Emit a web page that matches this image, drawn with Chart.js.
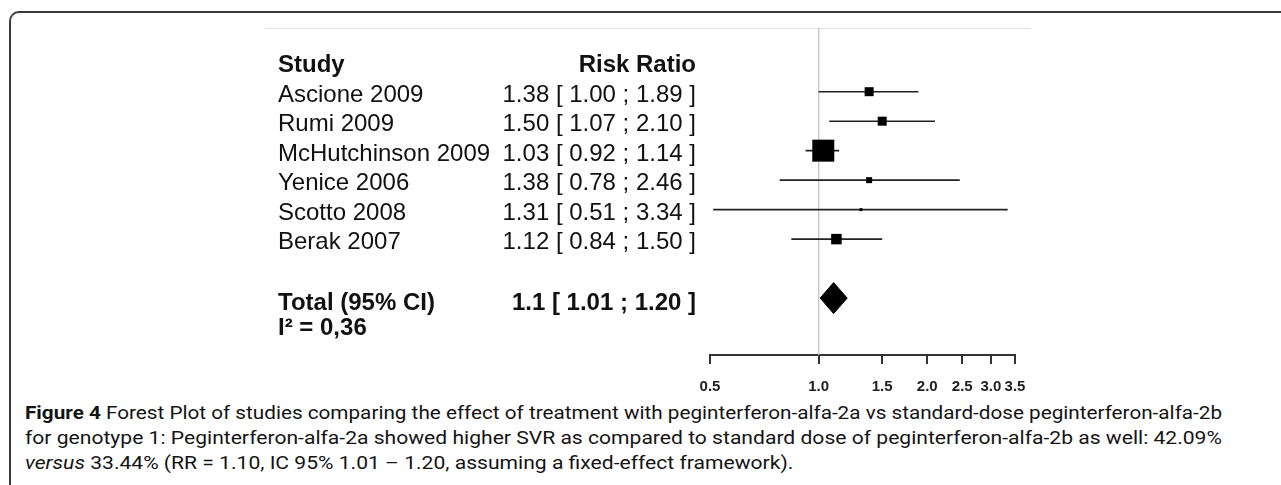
<!DOCTYPE html>
<html>
<head>
<meta charset="utf-8">
<title>Forest plot</title>
<script src="https://cdn.jsdelivr.net/npm/chart.js@4.4.1/dist/chart.umd.min.js"></script>
<style>
  html, body { margin: 0; padding: 0; background: #fff; }
  body { width: 1281px; height: 485px; position: relative; overflow: hidden; }
  #frame {
    position: absolute; left: 9px; top: 11px; width: 1300px; height: 500px;
    border-top: 2px solid #3a3a3a; border-left: 2px solid #3a3a3a;
    border-top-left-radius: 10px; box-sizing: border-box;
  }
  #plot { position: absolute; left: 0; top: 0; }
  .cap {
    position: absolute; left: 25px; white-space: nowrap; line-height: 24px;
    font-family: Roboto, 'Open Sans', sans-serif; font-size: 17.5px; color: #151314;
    transform-origin: 0 50%;
  }
</style>
</head>
<body>
<div id="frame"></div>
<canvas id="plot" width="1281" height="400"></canvas>
<div class="cap" id="cap1" style="top:401px"><b>Figure 4</b> Forest Plot of studies comparing the effect of treatment with peginterferon-alfa-2a vs standard-dose peginterferon-alfa-2b</div>
<div class="cap" id="cap2" style="top:426px">for genotype 1: Peginterferon-alfa-2a showed higher SVR as compared to standard dose of peginterferon-alfa-2b as well: 42.09%</div>
<div class="cap" id="cap3" style="top:451px"><i>versus</i> 33.44% (RR = 1.10, IC 95% 1.01 – 1.20, assuming a fixed-effect framework).</div>
<script>
const studies = ['Ascione 2009', 'Rumi 2009', 'McHutchinson 2009', 'Yenice 2006', 'Scotto 2008', 'Berak 2007'];
const riskRatio = [1.38, 1.50, 1.03, 1.38, 1.31, 1.12];
const ciLower = [1.00, 1.07, 0.92, 0.78, 0.51, 0.84];
const ciUpper = [1.89, 2.10, 1.14, 2.46, 3.34, 1.50];
const weights = [10.1, 10.1, 60.4, 4.5, 1.1, 13.8];

const totalLabel = 'Total (95% CI)';
const totalRR = 1.1;
const totalLower = 1.01;
const totalUpper = 1.20;
const heterogeneity = 'I² = 0,36';

const headers = ['Study', 'Risk Ratio'];
const xTicks = [0.5, 1.0, 1.5, 2.0, 2.5, 3.0, 3.5];

const FONT = '"Liberation Sans", Arial, sans-serif';
const ROW_TOP = -2.16;
const ROW_BOTTOM = 8.93;
const TOTAL_ROW = studies.length + 1;

function squareRadius(w) {
  // area of the square follows the study weight
  const side = 2.83 * Math.sqrt(w);
  return side / Math.SQRT2;
}

function fmt(v) {
  return v.toFixed(2);
}

const ciSegments = [];
studies.forEach((s, i) => {
  ciSegments.push({ x: ciLower[i], y: i });
  ciSegments.push({ x: ciUpper[i], y: i });
  ciSegments.push({ x: ciUpper[i], y: null });
});

const diamondHalf = 0.525;
const diamond = [
  { x: totalLower, y: TOTAL_ROW },
  { x: totalRR, y: TOTAL_ROW - diamondHalf },
  { x: totalUpper, y: TOTAL_ROW },
  { x: totalRR, y: TOTAL_ROW + diamondHalf },
  { x: totalLower, y: TOTAL_ROW },
];

const tablePlugin = {
  id: 'forestTable',
  beforeDraw(chart) {
    const ctx = chart.ctx;
    ctx.save();
    ctx.strokeStyle = '#e2e2e2';
    ctx.lineWidth = 1;
    ctx.beginPath();
    ctx.moveTo(265, chart.chartArea.top + 0.5);
    ctx.lineTo(1030, chart.chartArea.top + 0.5);
    ctx.stroke();
    ctx.restore();
  },
  afterDraw(chart) {
    const ctx = chart.ctx;
    const y = chart.scales.y;
    const base = (row) => y.getPixelForValue(row) + 10;
    const left = 278;
    const right = 696;

    ctx.save();
    ctx.fillStyle = '#111';
    ctx.textBaseline = 'alphabetic';

    ctx.font = `bold 24px ${FONT}`;
    ctx.textAlign = 'left';
    ctx.fillText(headers[0], left, base(-1));
    ctx.textAlign = 'right';
    ctx.fillText(headers[1], right, base(-1));

    ctx.font = `24px ${FONT}`;
    studies.forEach((s, i) => {
      ctx.textAlign = 'left';
      ctx.fillText(s, left, base(i));
      ctx.textAlign = 'right';
      ctx.fillText(`${fmt(riskRatio[i])} [ ${fmt(ciLower[i])} ; ${fmt(ciUpper[i])} ]`, right, base(i));
    });

    ctx.font = `bold 24px ${FONT}`;
    ctx.textAlign = 'left';
    ctx.fillText(totalLabel, left, base(TOTAL_ROW + 0.05));
    ctx.fillText(heterogeneity, left, base(TOTAL_ROW + 0.9));
    ctx.textAlign = 'right';
    ctx.fillText(`${totalRR} [ ${fmt(totalLower)} ; ${fmt(totalUpper)} ]`, right, base(TOTAL_ROW + 0.05));
    ctx.restore();
  },
};

new Chart(document.getElementById('plot').getContext('2d'), {
  type: 'scatter',
  data: {
    datasets: [
      {
        type: 'scatter',
        data: studies.map((s, i) => ({ x: riskRatio[i], y: i })),
        pointStyle: 'rect',
        pointRadius: (c) => squareRadius(weights[c.dataIndex]),
        backgroundColor: '#000',
        borderWidth: 0,
      },
      {
        type: 'line',
        data: ciSegments,
        borderColor: '#222',
        borderWidth: 1.6,
        pointRadius: 0,
        spanGaps: false,
        tension: 0,
      },
      {
        type: 'line',
        data: diamond,
        borderColor: '#000',
        backgroundColor: '#000',
        borderWidth: 1,
        pointRadius: 0,
        fill: 'shape',
        tension: 0,
      },
      {
        type: 'line',
        data: [{ x: 1, y: ROW_TOP }, { x: 1, y: ROW_BOTTOM }],
        borderColor: '#c8c8c8',
        borderWidth: 1,
        pointRadius: 0,
      },
    ],
  },
  options: {
    responsive: false,
    animation: false,
    events: [],
    layout: { padding: { left: 710, right: 266, top: 28, bottom: 5 } },
    plugins: {
      legend: { display: false },
      tooltip: { enabled: false },
    },
    scales: {
      x: {
        type: 'logarithmic',
        min: 0.5,
        max: 3.5,
        afterBuildTicks: (axis) => {
          axis.ticks = xTicks.map((v) => ({ value: v }));
        },
        afterFit: (axis) => {
          axis.height = 40;
        },
        ticks: {
          autoSkip: false,
          maxRotation: 0,
          padding: 14,
          color: '#222',
          font: { family: FONT, size: 15, weight: 'bold' },
          callback: (v) => Number(v).toFixed(1),
        },
        grid: { drawOnChartArea: false, drawTicks: true, tickLength: 9, color: '#333', lineWidth: 2 },
        border: { display: true, color: '#333', width: 2 },
      },
      y: {
        type: 'linear',
        reverse: true,
        min: ROW_TOP,
        max: ROW_BOTTOM,
        display: false,
      },
    },
  },
  plugins: [tablePlugin],
});

// fit caption lines to the printed width
const capTarget = 1197;
const w1 = document.getElementById('cap1').scrollWidth;
const w2 = document.getElementById('cap2').scrollWidth;
document.getElementById('cap1').style.transform = `scaleX(${capTarget / w1})`;
document.getElementById('cap2').style.transform = `scaleX(${capTarget / w2})`;
document.getElementById('cap3').style.transform = `scaleX(${capTarget / w2})`;
</script>
</body>
</html>
